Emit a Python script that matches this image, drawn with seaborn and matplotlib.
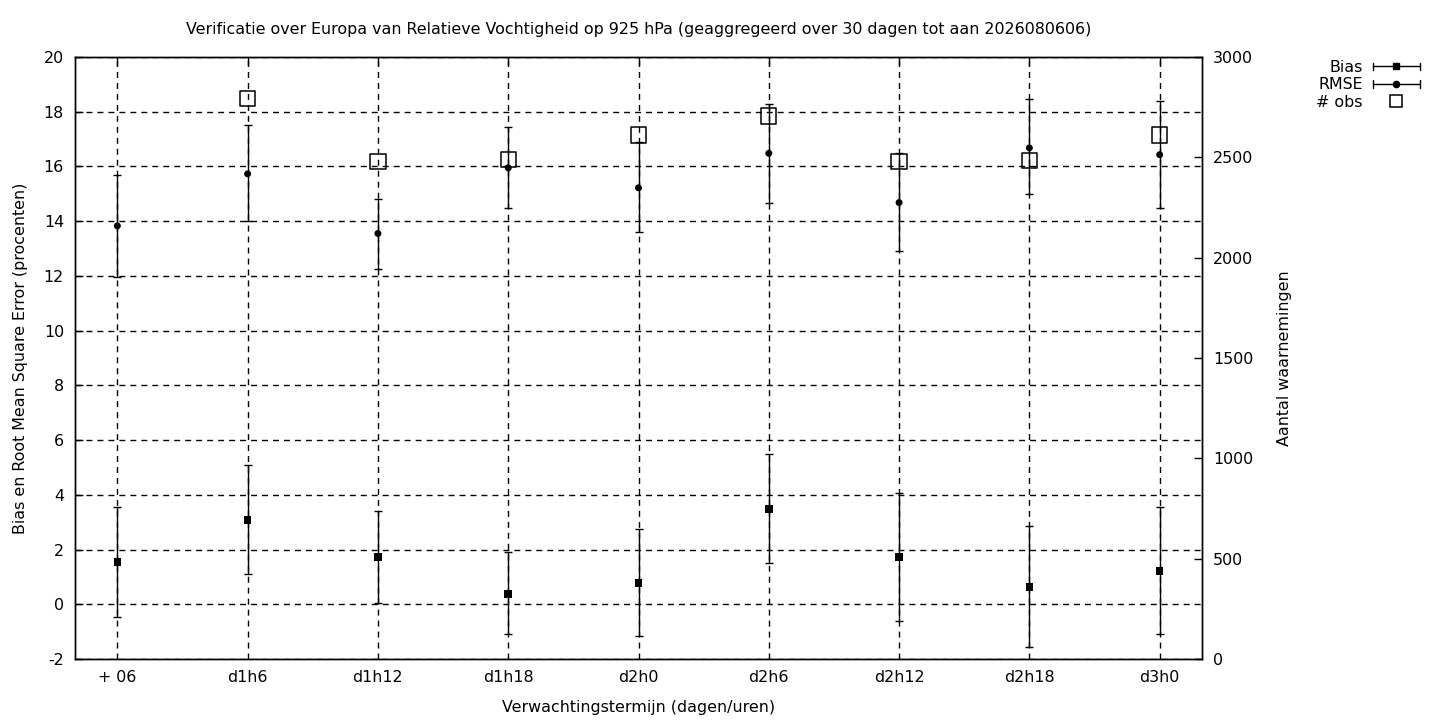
import numpy as np
import pandas as pd
import matplotlib
matplotlib.use("Agg")
import matplotlib.pyplot as plt
from matplotlib.lines import Line2D
from matplotlib.legend_handler import HandlerBase
import seaborn as sns

# data
terms = ["+ 06", "d1h6", "d1h12", "d1h18", "d2h0", "d2h6", "d2h12", "d2h18", "d3h0"]

bias = [1.55, 3.07, 1.73, 0.38, 0.78, 3.48, 1.73, 0.64, 1.22]
bias_lo = [-0.45, 1.1, 0.05, -1.1, -1.15, 1.5, -0.6, -1.55, -1.1]
bias_hi = [3.55, 5.1, 3.4, 1.9, 2.75, 5.5, 4.05, 2.85, 3.55]

rmse = [13.83, 15.73, 13.55, 15.95, 15.22, 16.48, 14.68, 16.68, 16.43]
rmse_lo = [11.95, 14.0, 12.25, 14.5, 13.6, 14.65, 12.9, 15.0, 14.5]
rmse_hi = [15.7, 17.5, 14.8, 17.45, 16.9, 18.3, 16.5, 18.45, 18.4]

nobs = [np.nan, 2795, 2481, 2491, 2611, 2706, 2481, 2486, 2611]

df = pd.DataFrame({"term": terms, "pos": np.arange(len(terms)),
                   "bias": bias, "bias_lo": bias_lo, "bias_hi": bias_hi,
                   "rmse": rmse, "rmse_lo": rmse_lo, "rmse_hi": rmse_hi,
                   "nobs": nobs})

sns.set_style("white")
plt.rcParams["font.family"] = ["DejaVu Sans"]
plt.rcParams["font.size"] = 11.4
plt.rcParams["text.color"] = "black"
plt.rcParams["axes.labelcolor"] = "black"
plt.rcParams["axes.unicode_minus"] = False

FS = 11.4


class GnuErrHandler(HandlerBase):
    """legend sample like gnuplot: horizontal bar with caps, marker in the middle"""
    def __init__(self, marker, ms):
        super().__init__()
        self.marker = marker
        self.ms = ms

    def create_artists(self, legend, orig_handle, xdescent, ydescent, width, height, fontsize, trans):
        y = height / 2 - ydescent
        x0, x1 = -xdescent, width - xdescent
        cap = height * 0.35
        arts = [Line2D([x0, x1], [y, y], color="black", lw=1),
                Line2D([x0, x0], [y - cap, y + cap], color="black", lw=1),
                Line2D([x1, x1], [y - cap, y + cap], color="black", lw=1),
                Line2D([(x0 + x1) / 2], [y], marker=self.marker, ms=self.ms, color="black", ls="none")]
        for a in arts:
            a.set_transform(trans)
        return arts


fig = plt.figure(figsize=(14.4, 7.2), dpi=100)
ax = fig.add_axes([75 / 1440, 61 / 720, 1127 / 1440, 602 / 720])
ax2 = ax.twinx()

# bias and rmse with error bars
ax.errorbar(df["pos"], df["bias"], yerr=[df["bias"] - df["bias_lo"], df["bias_hi"] - df["bias"]],
            fmt="none", ecolor="black", elinewidth=1, capsize=3, capthick=1, zorder=3)
ax.errorbar(df["pos"], df["rmse"], yerr=[df["rmse"] - df["rmse_lo"], df["rmse_hi"] - df["rmse"]],
            fmt="none", ecolor="black", elinewidth=1, capsize=3, capthick=1, zorder=3)
sns.scatterplot(data=df, x="pos", y="bias", ax=ax, marker="s", s=30, color="black",
                edgecolor="none", zorder=4)
sns.scatterplot(data=df, x="pos", y="rmse", ax=ax, marker="o", s=25, color="black",
                edgecolor="none", zorder=4)

# number of observations on right axis
sns.scatterplot(data=df, x="pos", y="nobs", ax=ax2, marker="s", s=120,
                facecolor="none", edgecolor="black", linewidth=1.1, zorder=4)

ax.set_xlim(-0.325, 8.325)
ax.set_ylim(-2, 20)
ax.set_yticks(np.arange(-2, 21, 2))
ax.set_xticks(df["pos"])
ax.set_xticklabels(terms)
ax2.set_ylim(0, 3000)
ax2.set_yticks(np.arange(0, 3001, 500))

ax.grid(True, color="black", linestyle=(0, (4.3, 3.6)), linewidth=1)
ax.set_axisbelow(True)
for a in (ax, ax2):
    for s in a.spines.values():
        s.set_color("black")
        s.set_linewidth(1)
ax.tick_params(axis="both", direction="in", length=6, width=1, colors="black", labelsize=FS, pad=8)
ax.tick_params(axis="x", top=True)
ax2.tick_params(axis="y", direction="in", length=6, width=1, colors="black", labelsize=FS, pad=8)

ax.set_xlabel("Verwachtingstermijn (dagen/uren)", fontsize=FS, labelpad=11)
ax.set_ylabel("Bias en Root Mean Square Error (procenten)", fontsize=FS, labelpad=11)
ax2.set_ylabel("Aantal waarnemingen", fontsize=FS, labelpad=17)
ax.set_title("Verificatie over Europa van Relatieve Vochtigheid op 925 hPa "
             "(geaggregeerd over 30 dagen tot aan 2026080606)", fontsize=FS, pad=16.5)

h_bias = Line2D([], [], color="black")
h_rmse = Line2D([], [], color="black", marker="o")
h_obs = Line2D([], [], marker="s", ms=9, mfc="none", mec="black", ls="none", mew=1.1)
fig.legend([h_bias, h_rmse, h_obs], ["Bias", "RMSE", "# obs"],
           handler_map={h_bias: GnuErrHandler("s", 5), h_rmse: GnuErrHandler("o", 4.5)},
           loc="upper right", bbox_to_anchor=(1420 / 1440, 1 - 60 / 720), frameon=False,
           markerfirst=False, handlelength=3.0, handletextpad=0.6, labelspacing=0.15,
           fontsize=FS, borderaxespad=0, borderpad=0)

fig.savefig("out.png", dpi=100)
